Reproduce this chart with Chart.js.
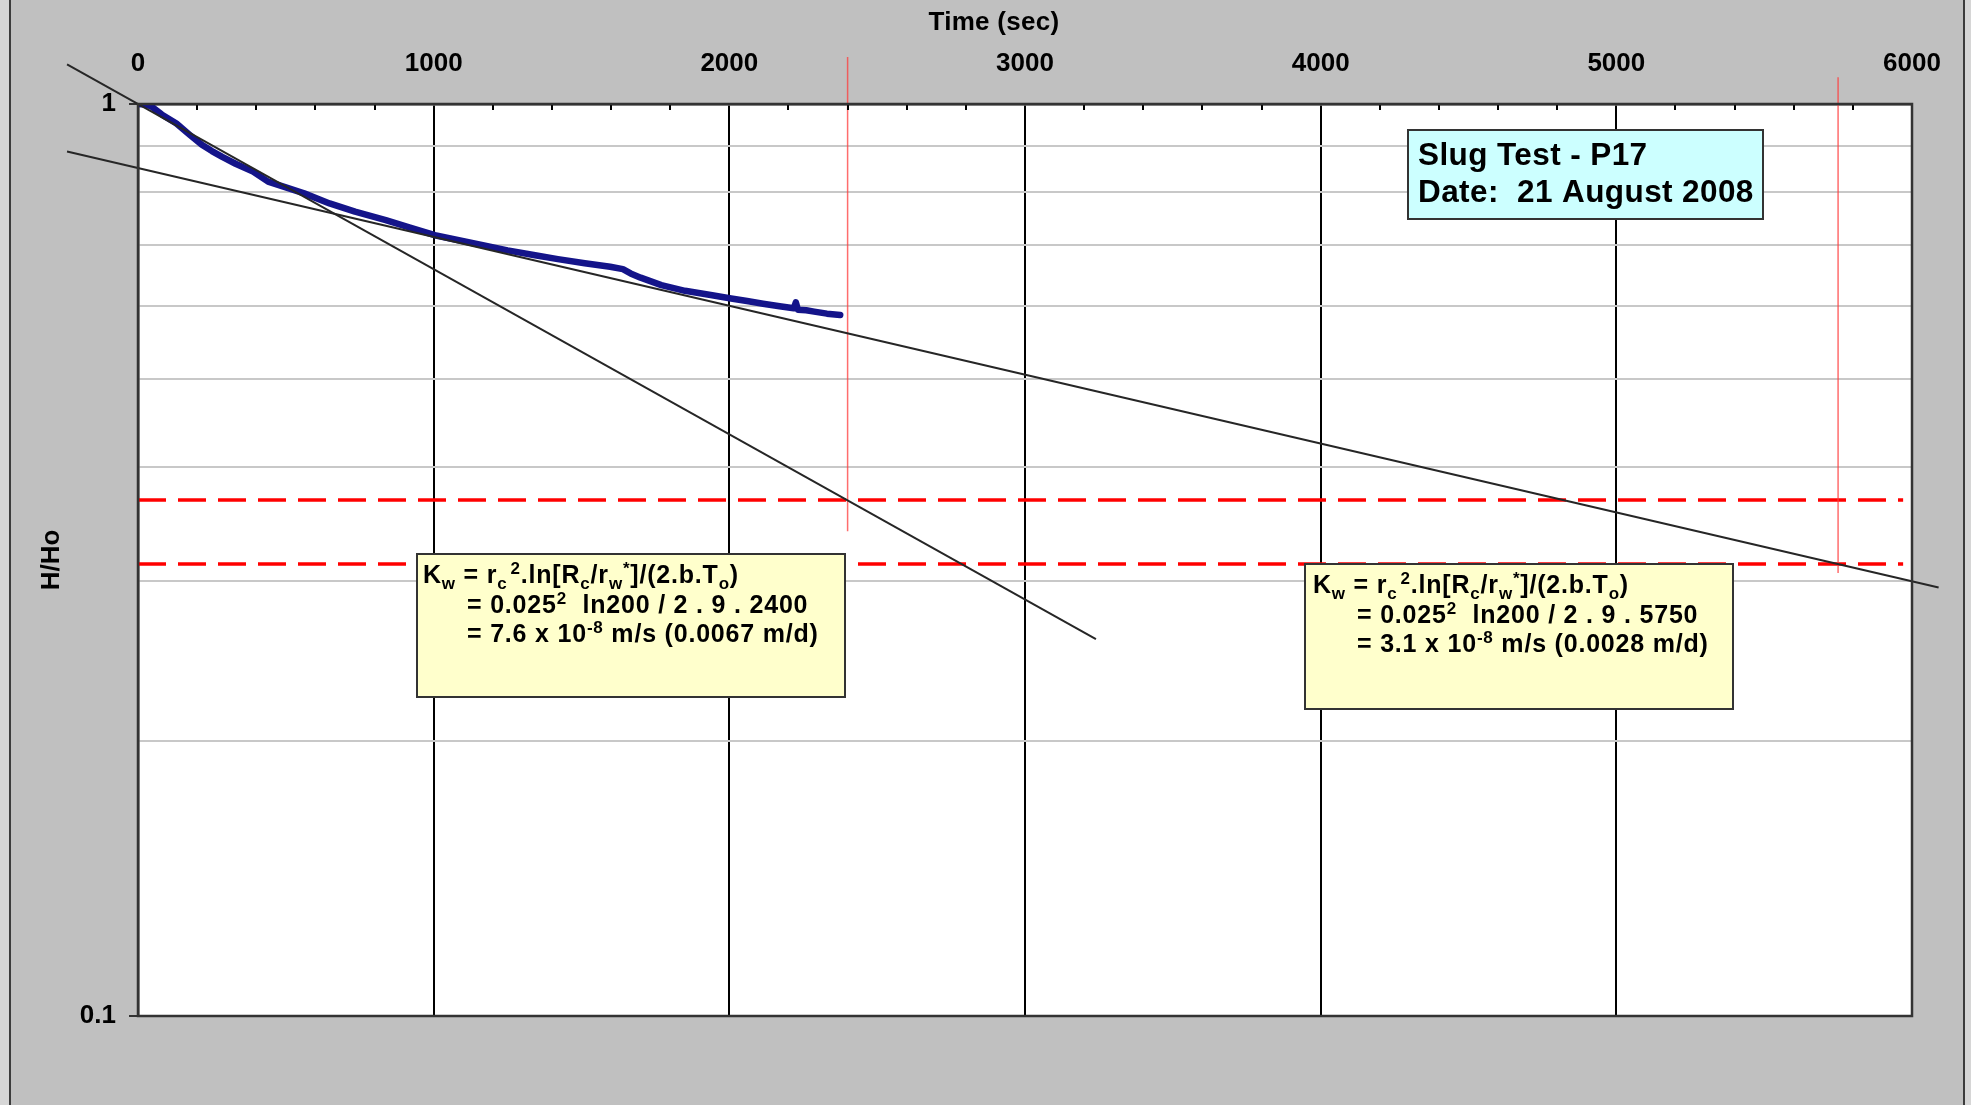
<!DOCTYPE html>
<html>
<head>
<meta charset="utf-8">
<script src="https://cdn.jsdelivr.net/npm/chart.js@4/dist/chart.umd.min.js"></script>
<style>
  html, body { margin: 0; padding: 0; background: #c0c0c0; overflow: hidden; }
  canvas { display: block; }
</style>
</head>
<body>
<canvas id="chart" width="1971" height="1105"></canvas>
<script>
// Slug test P17: normalised head H/Ho against elapsed time (s)
const timeSec = [0, 25, 45, 80, 130, 175, 216, 250, 285, 330, 389, 440, 500, 562, 648, 734, 838, 920,
  1004, 1085, 1166, 1250, 1338, 1420, 1511, 1597, 1640, 1666, 1700, 1770, 1850, 1942, 2006, 2060,
  2114, 2170, 2218, 2225, 2232, 2260, 2287, 2330, 2375];
const headRatio = [1.000, 0.999, 0.994, 0.974, 0.952, 0.925, 0.902, 0.888, 0.875, 0.860, 0.843, 0.822,
  0.810, 0.798, 0.778, 0.762, 0.746, 0.732, 0.718, 0.709, 0.700, 0.691, 0.683, 0.676, 0.669, 0.663,
  0.659, 0.652, 0.645, 0.633, 0.624, 0.617, 0.612, 0.608, 0.604, 0.600, 0.597, 0.606, 0.595, 0.594,
  0.592, 0.589, 0.587];

// Straight-line fits on the semi-log plot (end points of each drawn line)
const fitEarlyTime = [-240, 3240];
const fitEarlyHead = [1.105, 0.259];
const fitLateTime = [-240, 6090];
const fitLateHead = [0.887, 0.295];

// 0.37 reference levels (dashed) for each fit
const refLevelTime = [0, 5970];
const refLevelHead = [0.368, 0.313];

// Basic time lag T0 read at each reference level
const lagTime = [2400, 5750];
const lagTop = [1.126, 1.07];
const lagBottom = [0.340, 0.306];

// Axis labels
const xTickLabels = ['0', '1000', '2000', '3000', '4000', '5000', '6000'];
const yTickLabels = ['0.1', '1'];
const xTitle = 'Time (sec)';
const yTitle = 'H/Ho';

const FAMILY = '"Liberation Sans", Arial, Helvetica, sans-serif';

const toPoints = (xs, ys) => xs.map((x, i) => ({ x, y: ys[i] }));

const titleLines = ['Slug Test - P17', 'Date:  21 August 2008'];

const boxEarly = [
  [['K', ''], ['w', 'sub'], [' = r', ''], ['c', 'sub'], ['2', 'sup', 3], ['.ln[R', ''], ['c', 'sub'], ['/r', ''], ['w', 'sub'], ['*', 'sup'], [']/(2.b.T', ''], ['o', 'sub'], [')', '']],
  [['= 0.025', ''], ['2', 'sup'], ['  ln200 / 2 . 9 . 2400', '']],
  [['= 7.6 x 10', ''], ['-8', 'sup'], [' m/s (0.0067 m/d)', '']]
];
const boxLate = [
  [['K', ''], ['w', 'sub'], [' = r', ''], ['c', 'sub'], ['2', 'sup', 3], ['.ln[R', ''], ['c', 'sub'], ['/r', ''], ['w', 'sub'], ['*', 'sup'], [']/(2.b.T', ''], ['o', 'sub'], [')', '']],
  [['= 0.025', ''], ['2', 'sup'], ['  ln200 / 2 . 9 . 5750', '']],
  [['= 3.1 x 10', ''], ['-8', 'sup'], [' m/s (0.0028 m/d)', '']]
];

function drawRuns(ctx, x, y, runs, size) {
  for (const [txt, mode, gap] of runs) {
    const s = mode ? Math.round(size * 0.68) : size;
    ctx.font = `bold ${s}px ${FAMILY}`;
    const dy = mode === 'sub' ? size * 0.22 : mode === 'sup' ? -size * 0.36 : 0;
    x += gap || 0;
    ctx.fillText(txt, x, y + dy);
    x += ctx.measureText(txt).width;
  }
}

function drawBox(ctx, x, y, w, h, fill) {
  ctx.fillStyle = fill;
  ctx.fillRect(x, y, w, h);
  ctx.strokeStyle = '#333333';
  ctx.lineWidth = 2;
  ctx.strokeRect(x, y, w, h);
}

const decor = {
  id: 'decor',
  beforeDraw(chart) {
    const { ctx, chartArea: a, width, height } = chart;
    ctx.save();
    ctx.fillStyle = '#c0c0c0';
    ctx.fillRect(0, 0, width, height);
    ctx.fillStyle = '#d6d6d6';
    ctx.fillRect(0, 0, 9, height);
    ctx.fillRect(1965, 0, width - 1965, height);
    ctx.fillStyle = '#3c3c3c';
    ctx.fillRect(9, 0, 2, height);
    ctx.fillRect(1963, 0, 2, height);
    ctx.fillStyle = '#ffffff';
    ctx.fillRect(a.left, a.top, a.right - a.left, a.bottom - a.top);
    // time axis title
    ctx.fillStyle = '#000';
    ctx.font = `bold 26px ${FAMILY}`;
    ctx.letterSpacing = '0.3px';
    ctx.textAlign = 'center';
    ctx.textBaseline = 'middle';
    ctx.fillText(xTitle, a.left + 856, 23);
    ctx.restore();
  },
  afterDatasetsDraw(chart) {
    const { ctx, chartArea: a, scales } = chart;
    ctx.save();
    // minor tick marks along the time axis, pointing into the plot
    ctx.strokeStyle = '#000';
    ctx.lineWidth = 2;
    ctx.beginPath();
    for (const t of scales.x.ticks) {
      if (t.value % 1000 !== 0) {
        const px = Math.round(scales.x.getPixelForValue(t.value));
        ctx.moveTo(px, a.top);
        ctx.lineTo(px, a.top + 6);
      }
    }
    ctx.stroke();
    // plot frame
    ctx.strokeStyle = '#333333';
    ctx.lineWidth = 2.5;
    ctx.strokeRect(a.left, a.top, a.right - a.left, a.bottom - a.top);
    ctx.restore();
  },
  afterDraw(chart) {
    const { ctx, chartArea: a } = chart;
    ctx.save();
    ctx.textBaseline = 'alphabetic';
    ctx.textAlign = 'left';

    // title box
    const tx = a.left + 1270, ty = a.top + 26;
    drawBox(ctx, tx, ty, 355, 89, '#ccffff');
    ctx.fillStyle = '#000';
    ctx.font = `bold 31.5px ${FAMILY}`;
    ctx.letterSpacing = '0.4px';
    ctx.fillText(titleLines[0], tx + 10, ty + 35);
    ctx.fillText(titleLines[1], tx + 10, ty + 72);

    // calculation boxes
    ctx.letterSpacing = '0.8px';
    const b1x = a.left + 279, b1y = a.top + 450;
    drawBox(ctx, b1x, b1y, 428, 143, '#ffffcc');
    ctx.fillStyle = '#000';
    drawRuns(ctx, b1x + 6, b1y + 29, boxEarly[0], 25);
    drawRuns(ctx, b1x + 50, b1y + 59, boxEarly[1], 25);
    drawRuns(ctx, b1x + 50, b1y + 88, boxEarly[2], 25);

    const b2x = a.left + 1167, b2y = a.top + 460;
    drawBox(ctx, b2x, b2y, 428, 145, '#ffffcc');
    ctx.fillStyle = '#000';
    drawRuns(ctx, b2x + 8, b2y + 29, boxLate[0], 25);
    drawRuns(ctx, b2x + 52, b2y + 59, boxLate[1], 25);
    drawRuns(ctx, b2x + 52, b2y + 88, boxLate[2], 25);
    ctx.restore();
  }
};

const isMajorTime = v => xTickLabels.includes(String(v));
const isTenth = v => Math.abs(v * 10 - Math.round(v * 10)) < 1e-6;
const yLabelFor = v => {
  for (const l of yTickLabels) if (Math.abs(v - Number(l)) < 1e-9) return l;
  return '';
};

new Chart(document.getElementById('chart'), {
  type: 'line',
  data: {
    datasets: [
      {
        label: 'H/Ho',
        data: toPoints(timeSec, headRatio),
        borderColor: '#14148a',
        borderWidth: 6.5,
        pointRadius: 0,
        borderCapStyle: 'round',
        borderJoinStyle: 'round',
        tension: 0,
        order: 5
      },
      {
        label: 'Reference level 1',
        data: toPoints(refLevelTime, [refLevelHead[0], refLevelHead[0]]),
        borderColor: '#ff0000',
        borderWidth: 3.5,
        borderDash: [28, 12],
        pointRadius: 0,
        order: 4
      },
      {
        label: 'Reference level 2',
        data: toPoints(refLevelTime, [refLevelHead[1], refLevelHead[1]]),
        borderColor: '#ff0000',
        borderWidth: 3.5,
        borderDash: [28, 12],
        pointRadius: 0,
        order: 4
      },
      {
        label: 'T0 early',
        data: toPoints([lagTime[0], lagTime[0]], [lagTop[0], lagBottom[0]]),
        borderColor: 'rgba(255,60,60,0.75)',
        borderWidth: 1.5,
        pointRadius: 0,
        clip: false,
        order: 3
      },
      {
        label: 'T0 late',
        data: toPoints([lagTime[1], lagTime[1]], [lagTop[1], lagBottom[1]]),
        borderColor: 'rgba(255,60,60,0.75)',
        borderWidth: 1.5,
        pointRadius: 0,
        clip: false,
        order: 3
      },
      {
        label: 'Early-time fit',
        data: toPoints(fitEarlyTime, fitEarlyHead),
        borderColor: '#262626',
        borderWidth: 2,
        pointRadius: 0,
        clip: false,
        order: 1
      },
      {
        label: 'Late-time fit',
        data: toPoints(fitLateTime, fitLateHead),
        borderColor: '#262626',
        borderWidth: 2,
        pointRadius: 0,
        clip: false,
        order: 1
      }
    ]
  },
  options: {
    responsive: false,
    devicePixelRatio: 1,
    animation: false,
    events: [],
    layout: { padding: { left: 0, top: 0, right: 59, bottom: 89 } },
    plugins: {
      legend: { display: false },
      tooltip: { enabled: false }
    },
    scales: {
      x: {
        type: 'linear',
        position: 'top',
        min: 0,
        max: 6000,
        afterFit: s => { s.height = 104; },
        ticks: {
          stepSize: 200,
          autoSkip: false,
          maxRotation: 0,
          padding: 25,
          color: '#000',
          font: { family: FAMILY, size: 26, weight: 'bold' },
          callback: v => (isMajorTime(v) ? String(v) : '')
        },
        grid: {
          drawTicks: false,
          lineWidth: 2,
          color: c => (c.tick && c.tick.value % 1000 === 0 && c.tick.value > 0 && c.tick.value < 6000 ? '#000000' : 'rgba(0,0,0,0)')
        },
        border: { display: true, color: '#333333', width: 2.5 },
        title: { display: false, text: xTitle }
      },
      y: {
        type: 'logarithmic',
        min: 0.1,
        max: 1,
        afterFit: s => { s.width = 138; },
        afterBuildTicks: s => { s.ticks = s.ticks.filter(t => isTenth(t.value)); },
        ticks: {
          autoSkip: false,
          padding: 13,
          color: '#000',
          font: { family: FAMILY, size: 26, weight: 'bold' },
          callback: v => yLabelFor(v)
        },
        grid: {
          tickLength: 9,
          lineWidth: 2,
          color: c => {
            const v = c.tick ? c.tick.value : 0;
            return yLabelFor(v) ? 'rgba(0,0,0,0)' : '#c8c8c8';
          },
          tickColor: c => (c.tick && yLabelFor(c.tick.value) ? '#333333' : 'rgba(0,0,0,0)')
        },
        border: { display: true, color: '#333333', width: 2.5 },
        title: {
          display: true,
          text: yTitle,
          color: '#000',
          font: { family: FAMILY, size: 26, weight: 'bold' },
          padding: { top: 36, bottom: 0 }
        }
      }
    }
  },
  plugins: [decor]
});
</script>
</body>
</html>
